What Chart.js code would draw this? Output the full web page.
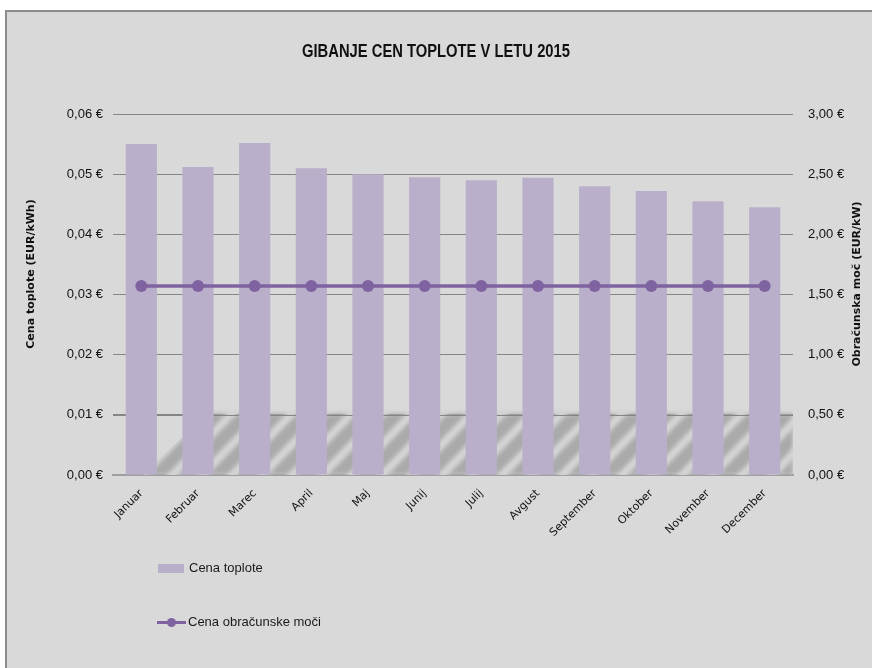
<!DOCTYPE html>
<html>
<head>
<meta charset="utf-8">
<script src="https://cdn.jsdelivr.net/npm/chart.js@4"></script>
<style>
  html, body { margin: 0; padding: 0; background: #ffffff; }
  #wrap { position: relative; width: 872px; height: 668px; overflow: hidden; }
  #panel { position: absolute; left: 5px; top: 10px; width: 900px; height: 700px;
           background: #d9d9d9; border: 2px solid #8c8c8c; box-sizing: border-box; }
  #c { position: absolute; left: 0; top: 0; }
  #title { position: absolute; left: 0; width: 872px; top: 40px; text-align: center;
           font-family: "Liberation Sans", Arial, sans-serif; font-weight: bold; font-size: 18px;
           line-height: 22px; color: #111; transform: scaleX(0.82); transform-origin: 436px 0; white-space: nowrap; }
  .leg { position: absolute; font-family: "Liberation Sans", Arial, sans-serif; font-size: 13px; color: #1a1a1a; }
  .leg .txt { position: absolute; left: 31px; top: -8px; white-space: nowrap; }
</style>
</head>
<body>
<div id="wrap">
  <div id="panel"></div>
  <canvas id="c" width="872" height="668"></canvas>
  <div id="title"></div>
  <div id="legend"></div>
</div>
<script>
const titleText = "GIBANJE CEN TOPLOTE V LETU 2015";
const months = ["Januar","Februar","Marec","April","Maj","Junij","Julij","Avgust","September","Oktober","November","December"];
const heatLabel = "Cena toplote";
const heatPrice = [0.0550, 0.0512, 0.0552, 0.0510, 0.0500, 0.0495, 0.0490, 0.0494, 0.0480, 0.0472, 0.0455, 0.0445];
const powerLabel = "Cena obračunske moči";
const powerPrice = [1.57, 1.57, 1.57, 1.57, 1.57, 1.57, 1.57, 1.57, 1.57, 1.57, 1.57, 1.57];
const leftAxisTitle = "Cena toplote (EUR/kWh)";
const rightAxisTitle = "Obračunska moč (EUR/kW)";
const leftMax = 0.06, leftStep = 0.01;
const rightMax = 3.0, rightStep = 0.5;
const stripeTop = 0.01;

const barColor = "#b9afcb";
const lineColor = "#7f63a1";
const tickFont = { family: "Liberation Sans, Arial, sans-serif", size: 13 };

document.getElementById("title").textContent = titleText;

function euro(v, d) { return v.toFixed(d).replace(".", ",") + " €"; }

const stripePlugin = {
  id: "stripes",
  beforeDatasetsDraw(chart) {
    const ctx = chart.ctx, ca = chart.chartArea;
    const y = chart.scales.y;
    const y0 = y.getPixelForValue(0), y1 = y.getPixelForValue(stripeTop);
    ctx.save();
    ctx.beginPath();
    ctx.moveTo(ca.left + 30, y0);
    ctx.lineTo(ca.left + 100, y1 - 6);
    ctx.lineTo(ca.right, y1 - 6);
    ctx.lineTo(ca.right, y0);
    ctx.closePath();
    ctx.clip();
    ctx.filter = "blur(2px)";
    ctx.fillStyle = "#aaaaaa";
    ctx.fillRect(ca.left, y1 - 1, ca.right - ca.left, y0 - y1 + 1);
    ctx.fillStyle = "#d6d6d6";
    const h = y0 - y1;
    for (let x = ca.left - 100; x < ca.right + 100; x += 30) {
      ctx.beginPath();
      ctx.moveTo(x, y0 + 4);
      ctx.lineTo(x + 11, y0 + 4);
      ctx.lineTo(x + 11 + h * 1.1, y1 - 4);
      ctx.lineTo(x + h * 1.1, y1 - 4);
      ctx.closePath();
      ctx.fill();
    }
    ctx.restore();
    ctx.save();
    ctx.strokeStyle = "#858585";
    ctx.lineWidth = 1;
    ctx.beginPath();
    ctx.moveTo(ca.left, Math.round(y1) + 0.5);
    ctx.lineTo(ca.right, Math.round(y1) + 0.5);
    ctx.stroke();
    ctx.restore();
  }
};

const axisTitlePlugin = {
  id: "axisTitles",
  afterDraw(chart) {
    const ctx = chart.ctx;
    ctx.save();
    ctx.font = "bold 11px 'DejaVu Sans', sans-serif";
    ctx.fillStyle = "#111";
    ctx.textAlign = "center";
    ctx.textBaseline = "middle";
    ctx.translate(31, 274);
    ctx.rotate(-Math.PI / 2);
    ctx.fillText(leftAxisTitle, 0, 0);
    ctx.restore();
    ctx.save();
    ctx.font = "bold 11px 'DejaVu Sans', sans-serif";
    ctx.fillStyle = "#111";
    ctx.textAlign = "center";
    ctx.textBaseline = "middle";
    ctx.translate(857, 284);
    ctx.rotate(-Math.PI / 2);
    ctx.fillText(rightAxisTitle, 0, 0);
    ctx.restore();
  }
};

new Chart(document.getElementById("c"), {
  data: {
    labels: months,
    datasets: [
      { type: "line", label: powerLabel, data: powerPrice, yAxisID: "y2", order: 0,
        borderColor: lineColor, backgroundColor: lineColor, borderWidth: 3.5,
        pointRadius: 6, pointHoverRadius: 6, pointBackgroundColor: lineColor, pointBorderWidth: 0 },
      { type: "bar", label: heatLabel, data: heatPrice, yAxisID: "y", order: 1,
        backgroundColor: barColor, barPercentage: 0.55, categoryPercentage: 1.0 }
    ]
  },
  plugins: [stripePlugin, axisTitlePlugin],
  options: {
    responsive: false,
    animation: false,
    events: [],
    layout: { padding: { left: 5, right: 4, top: 114, bottom: 0 } },
    plugins: {
      legend: { display: false },
      tooltip: { enabled: false },
      title: { display: false }
    },
    scales: {
      x: {
        grid: { display: false },
        border: { display: true, color: "#9f9f9f", width: 2 },
        ticks: { color: "#111", maxRotation: 45, minRotation: 45, padding: 4,
                 font: { family: "DejaVu Sans, sans-serif", size: 11 } },
        afterFit(s) { s.height = 193; }
      },
      y: {
        position: "left", min: 0, max: leftMax,
        grid: { color: "#858585", drawTicks: false },
        border: { display: false },
        ticks: { stepSize: leftStep, padding: 10, color: "#111", font: tickFont,
                 callback: (v) => euro(v, 2) },
        afterFit(s) { s.width = 108; }
      },
      y2: {
        position: "right", min: 0, max: rightMax,
        grid: { display: false, drawTicks: false },
        border: { display: false },
        ticks: { stepSize: rightStep, padding: 15, color: "#111", font: tickFont,
                 callback: (v) => euro(v, 2) },
        afterFit(s) { s.width = 75; }
      }
    }
  }
});

const legend = document.getElementById("legend");
legend.innerHTML =
  '<div class="leg" style="left:158px;top:568px;">' +
    '<div style="position:absolute;left:0;top:-4px;width:26px;height:9px;background:' + barColor + ';"></div>' +
    '<span class="txt">' + heatLabel + '</span></div>' +
  '<div class="leg" style="left:157px;top:622px;">' +
    '<div style="position:absolute;left:0;top:-1.5px;width:29px;height:3px;background:' + lineColor + ';"></div>' +
    '<div style="position:absolute;left:10px;top:-4.5px;width:9px;height:9px;border-radius:50%;background:' + lineColor + ';"></div>' +
    '<span class="txt">' + powerLabel + '</span></div>';
</script>
</body>
</html>
